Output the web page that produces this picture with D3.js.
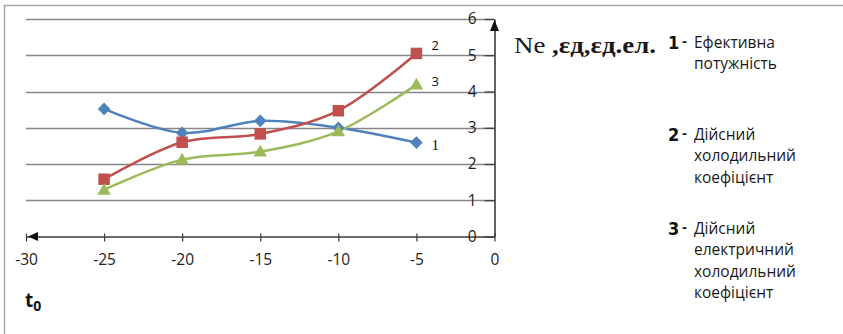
<!DOCTYPE html>
<html>
<head>
<meta charset="utf-8">
<script src="https://cdn.jsdelivr.net/npm/d3@7"></script>
<style>
  html, body { margin: 0; padding: 0; background: #fff; }
  svg { display: block; }
</style>
</head>
<body>
<svg id="chart" width="843" height="334"></svg>
<script>
// Temperature of evaporation t0, °C
const temps = [-25, -20, -15, -10, -5];
// 1 – effective power
const series1 = [3.52, 2.86, 3.19, 3.0, 2.59];
// 2 – actual refrigeration coefficient
const series2 = [1.58, 2.6, 2.83, 3.47, 5.05];
// 3 – actual electric refrigeration coefficient
const series3 = [1.29, 2.12, 2.34, 2.9, 4.19];

const xTicks = [-30, -25, -20, -15, -10, -5, 0];
const yTicks = [0, 1, 2, 3, 4, 5, 6];
const seriesNames = ["1", "2", "3"];
const legendEntries = [
  ["Ефективна", "потужність"],
  ["Дійсний", "холодильний", "коефіцієнт"],
  ["Дійсний", "електричний", "холодильний", "коефіцієнт"]
];
const axisTitle = ["Ne ", ",εд,εд.ел."];
const xTitle = ["t", "0"];

const svg = d3.select("#chart");
const W = 843, H = 334;

// frame around the chart area (top and left edges visible)
svg.append("path")
  .attr("d", `M4.5,${H} V5.5 H${W}`)
  .attr("fill", "none")
  .attr("stroke", "#a6a6a6")
  .attr("stroke-width", 1.5);

const x = d3.scaleLinear().domain([-30, 0]).range([26, 494.5]);
const y = d3.scaleLinear().domain([0, 6]).range([236.5, 19]);

// horizontal gridlines
svg.append("g")
  .selectAll("line")
  .data(yTicks.filter(v => v > 0))
  .join("line")
  .attr("x1", x(-30)).attr("x2", x(0))
  .attr("y1", d => Math.round(y(d)) + 0.5)
  .attr("y2", d => Math.round(y(d)) + 0.5)
  .attr("stroke", "#868686")
  .attr("stroke-width", 1.3);

const axisColor = "#3a3a3a";
const tickFont = "'Open Sans', sans-serif";

// x axis (drawn at value 0)
const gx = svg.append("g")
  .attr("transform", `translate(0,${y(0)})`)
  .call(d3.axisBottom(x).tickValues(xTicks).tickSize(5).tickSizeOuter(0).tickPadding(12)
    .tickFormat(d3.format("d")));
gx.select(".domain").attr("stroke", axisColor).attr("stroke-width", 1.6);
gx.selectAll(".tick line").attr("stroke", axisColor).attr("y1", -3).attr("stroke-width", 1.2);
gx.selectAll(".tick text")
  .attr("font-family", tickFont).attr("font-size", 15.5).attr("fill", "#222")
  .text(d => d3.format("d")(d).replace("−", "-"));

// y axis (drawn at x = 0)
const gy = svg.append("g")
  .attr("transform", `translate(${x(0)},0)`)
  .call(d3.axisLeft(y).tickValues(yTicks).tickSize(10).tickSizeOuter(0).tickPadding(8)
    .tickFormat(d3.format("d")));
gy.select(".domain").attr("stroke", axisColor).attr("stroke-width", 1.6);
gy.selectAll(".tick line").attr("stroke", axisColor).attr("stroke-width", 1.2);
gy.selectAll(".tick text")
  .attr("font-family", tickFont).attr("font-size", 15.5).attr("fill", "#222");

// arrowheads on both axes
const x0 = x(0), y0 = y(0);
svg.append("path")
  .attr("d", `M${x0},${y(6) + 1} l-4.5,11 h9 z`)
  .attr("fill", "#111");
svg.append("path")
  .attr("d", `M${x(-30) + 2},${y0} l10,-4.5 v9 z`)
  .attr("fill", "#111");

// series lines + markers
const data = [series1, series2, series3];
const colors = ["#4f81bd", "#c0504d", "#9bbb59"];
const symbols = [
  d3.symbol().type(d3.symbolSquare).size(80),
  d3.symbol().type(d3.symbolSquare).size(132),
  d3.symbol().type(d3.symbolTriangle).size(80)
];
const line = d3.line()
  .x((d, i) => x(temps[i]))
  .y(d => y(d))
  .curve(d3.curveCatmullRom.alpha(0.5));

data.forEach((vals, k) => {
  svg.append("path")
    .datum(vals)
    .attr("d", line)
    .attr("fill", "none")
    .attr("stroke", colors[k])
    .attr("stroke-width", 2.5);
});
data.forEach((vals, k) => {
  svg.append("g")
    .selectAll("path")
    .data(vals)
    .join("path")
    .attr("d", symbols[k])
    .attr("transform", (d, i) =>
      `translate(${x(temps[i])},${y(d) + (k === 2 ? 1 : 0)})` + (k === 0 ? " rotate(45)" : ""))
    .attr("fill", colors[k]);
});

// series numbers at the last points
const labelOffsets = [[15, 7], [15, -3], [15, 1]];
data.forEach((vals, k) => {
  const last = vals.length - 1;
  svg.append("text")
    .attr("x", x(temps[last]) + labelOffsets[k][0])
    .attr("y", y(vals[last]) + labelOffsets[k][1])
    .attr("font-family", k === 0 ? "'Liberation Serif', serif" : "'Open Sans', sans-serif")
    .attr("font-size", k === 0 ? 15 : 13)
    .attr("fill", "#111")
    .text(seriesNames[k]);
});

// y axis title
const t = svg.append("text")
  .attr("x", 514).attr("y", 53)
  .attr("font-family", "'Liberation Serif', 'Times New Roman', serif")
  .attr("font-size", 24)
  .attr("fill", "#1a1a1a")
  .attr("textLength", 142)
  .attr("lengthAdjust", "spacingAndGlyphs");
t.append("tspan").text(axisTitle[0]);
t.append("tspan").attr("font-weight", "bold").text(axisTitle[1]);

// x axis title t0
const tx = svg.append("text")
  .attr("x", 25).attr("y", 307)
  .attr("font-family", "'Open Sans', sans-serif")
  .attr("font-weight", "bold")
  .attr("fill", "#111");
tx.append("tspan").attr("font-size", 19).text(xTitle[0]);
tx.append("tspan").attr("font-size", 14).attr("dy", 4).text(xTitle[1]);

// legend
const legendBaselines = [[48, 68.5], [139.5, 161, 182.5], [233.5, 255, 276.5, 298]];
legendEntries.forEach((lines, k) => {
  const g = svg.append("g");
  g.append("text")
    .attr("x", 668).attr("y", legendBaselines[k][0] + 1)
    .attr("font-family", "'DejaVu Sans Condensed', 'Liberation Sans Narrow', sans-serif")
    .attr("font-weight", "bold")
    .attr("font-size", 18)
    .attr("fill", "#111")
    .text(seriesNames[k]);
  g.append("text")
    .attr("x", 682).attr("y", legendBaselines[k][0] - 2)
    .attr("font-family", "'DejaVu Sans', sans-serif")
    .attr("font-weight", "bold")
    .attr("font-size", 12)
    .attr("fill", "#111")
    .text("-");
  lines.forEach((s, j) => {
    g.append("text")
      .attr("x", 694).attr("y", legendBaselines[k][j])
      .attr("font-family", "'Open Sans', sans-serif")
      .attr("font-size", 15.5)
      .attr("fill", "#1a1a1a")
      .text(s);
  });
});
</script>
</body>
</html>
